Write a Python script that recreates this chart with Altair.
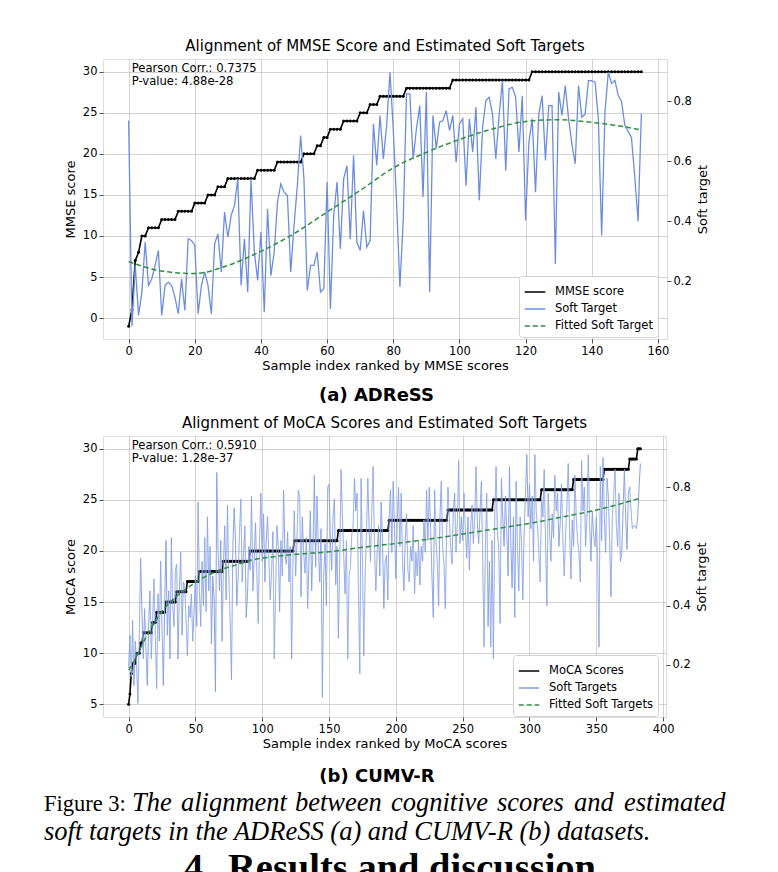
import altair as alt
import pandas as pd

# ---------------- Panel (a) ADReSS ----------------
mmse_score = [
    -1, 1, 7, 8, 10, 10, 11, 11, 11, 11,
    12, 12, 12, 12, 12, 13, 13, 13, 13, 13,
    14, 14, 14, 14, 15, 15, 15, 16, 16, 16,
    17, 17, 17, 17, 17, 17, 17, 17, 17, 18,
    18, 18, 18, 18, 18, 19, 19, 19, 19, 19,
    19, 19, 19, 20, 20, 20, 20, 21, 21, 22,
    22, 23, 23, 23, 23, 24, 24, 24, 24, 24,
    25, 25, 25, 26, 26, 26, 27, 27, 27, 27,
    27, 27, 27, 27, 28, 28, 28, 28, 28, 28,
    28, 28, 28, 28, 28, 28, 28, 28, 29, 29,
    29, 29, 29, 29, 29, 29, 29, 29, 29, 29,
    29, 29, 29, 29, 29, 29, 29, 29, 29, 29,
    29, 29, 30, 30, 30, 30, 30, 30, 30, 30,
    30, 30, 30, 30, 30, 30, 30, 30, 30, 30,
    30, 30, 30, 30, 30, 30, 30, 30, 30, 30,
    30, 30, 30, 30, 30, 30,
]
soft_a = [
    0.736, 0.050, 0.253, 0.086, 0.164, 0.331, 0.186, 0.208, 0.253, 0.303,
    0.086, 0.186, 0.197, 0.186, 0.147, 0.092, 0.208, 0.103, 0.342, 0.336,
    0.320, 0.092, 0.186, 0.231, 0.186, 0.092, 0.325, 0.358, 0.231, 0.431,
    0.347, 0.420, 0.453, 0.542, 0.186, 0.342, 0.164, 0.542, 0.297, 0.203,
    0.364, 0.097, 0.442, 0.219, 0.297, 0.464, 0.525, 0.497, 0.486, 0.231,
    0.386, 0.519, 0.686, 0.542, 0.169, 0.253, 0.253, 0.297, 0.164, 0.175,
    0.531, 0.108, 0.420, 0.531, 0.308, 0.542, 0.586, 0.340, 0.620, 0.330,
    0.303, 0.436, 0.314, 0.336, 0.725, 0.586, 0.753, 0.608, 0.720, 0.897,
    0.708, 0.464, 0.181, 0.400, 0.825, 0.825, 0.608, 0.708, 0.786, 0.481,
    0.831, 0.164, 0.753, 0.642, 0.731, 0.736, 0.769, 0.703, 0.753, 0.597,
    0.725, 0.742, 0.519, 0.742, 0.631, 0.781, 0.470, 0.714, 0.803, 0.814,
    0.758, 0.608, 0.753, 0.869, 0.569, 0.842, 0.847, 0.814, 0.631, 0.819,
    0.403, 0.664, 0.742, 0.497, 0.758, 0.819, 0.603, 0.786, 0.786, 0.258,
    0.831, 0.753, 0.853, 0.742, 0.658, 0.592, 0.853, 0.747, 0.758, 0.869,
    0.869, 0.864, 0.742, 0.353, 0.764, 0.897, 0.860, 0.870, 0.820, 0.800,
    0.720, 0.700, 0.680, 0.550, 0.400, 0.760,
]
fit_a_idx = [0, 10, 20, 30, 40, 50, 60, 70, 80, 90, 100, 110, 120, 130, 140, 150, 155]
fit_a_val = [0.266, 0.234, 0.226, 0.253, 0.300, 0.359, 0.431, 0.503, 0.578, 0.630,
             0.673, 0.708, 0.733, 0.739, 0.730, 0.715, 0.705]

# ---------------- Panel (b) CUMV-R ----------------
moca_score = [
    5, 6, 8, 9, 9, 9, 10, 10, 10, 11, 11,
    12, 12, 12, 12, 12, 12, 12,
    13, 13, 13,
    14, 14, 14, 14, 14, 14, 14,
    15, 15, 15, 15, 15, 15, 15, 15,
    16, 16, 16, 16, 16, 16, 16, 16,
    17, 17, 17, 17, 17, 17, 17, 17, 17,
    18, 18, 18, 18, 18, 18, 18, 18, 18, 18, 18, 18, 18, 18, 18, 18, 18, 18,
    19, 19, 19, 19, 19, 19, 19, 19, 19, 19, 19, 19, 19, 19, 19, 19, 19, 19, 19, 19,
    20, 20, 20, 20, 20, 20, 20, 20, 20, 20, 20, 20, 20, 20, 20, 20, 20, 20, 20, 20,
    20, 20, 20, 20, 20, 20, 20, 20, 20, 20, 20, 20, 20,
    21, 21, 21, 21, 21, 21, 21, 21, 21, 21, 21, 21, 21, 21, 21, 21, 21, 21, 21, 21,
    21, 21, 21, 21, 21, 21, 21, 21, 21, 21, 21, 21, 21,
    22, 22, 22, 22, 22, 22, 22, 22, 22, 22, 22, 22, 22, 22, 22, 22, 22, 22, 22, 22,
    22, 22, 22, 22, 22, 22, 22, 22, 22, 22, 22, 22, 22, 22, 22, 22, 22, 22,
    23, 23, 23, 23, 23, 23, 23, 23, 23, 23, 23, 23, 23, 23, 23, 23, 23, 23, 23, 23,
    23, 23, 23, 23, 23, 23, 23, 23, 23, 23, 23, 23, 23, 23, 23, 23, 23, 23, 23, 23,
    23, 23, 23, 23,
    24, 24, 24, 24, 24, 24, 24, 24, 24, 24, 24, 24, 24, 24, 24, 24, 24, 24, 24, 24,
    24, 24, 24, 24, 24, 24, 24, 24, 24, 24, 24, 24, 24, 24,
    25, 25, 25, 25, 25, 25, 25, 25, 25, 25, 25, 25, 25, 25, 25, 25, 25, 25, 25, 25,
    25, 25, 25, 25, 25, 25, 25, 25, 25, 25, 25, 25, 25, 25, 25, 25,
    26, 26, 26, 26, 26, 26, 26, 26, 26, 26, 26, 26, 26, 26, 26, 26, 26, 26, 26, 26,
    26, 26, 26, 26,
    27, 27, 27, 27, 27, 27, 27, 27, 27, 27, 27, 27, 27, 27, 27, 27, 27, 27, 27, 27,
    27, 27, 27,
    28, 28, 28, 28, 28, 28, 28, 28, 28, 28, 28, 28, 28, 28, 28, 28, 28, 28, 28,
    29, 29, 29, 29, 29, 29,
    30, 30, 30,
]
soft_b = [
    0.19, 0.30, 0.16, 0.35, 0.13, 0.28, 0.20, 0.07, 0.30, 0.56,
    0.38, 0.22, 0.39, 0.25, 0.13, 0.33, 0.45, 0.22, 0.35, 0.49,
    0.30, 0.12, 0.44, 0.28, 0.55, 0.32, 0.13, 0.40, 0.62, 0.30,
    0.45, 0.22, 0.63, 0.40, 0.33, 0.52, 0.54, 0.22, 0.45, 0.58,
    0.30, 0.48, 0.47, 0.35, 0.23, 0.40, 0.36, 0.44, 0.28, 0.38,
    0.50, 0.33, 0.75, 0.45, 0.33, 0.55, 0.40, 0.63, 0.38, 0.70,
    0.45, 0.60, 0.27, 0.50, 0.42, 0.11, 0.85, 0.58, 0.45, 0.62,
    0.28, 0.55, 0.67, 0.42, 0.74, 0.50, 0.35, 0.15, 0.60, 0.73,
    0.62, 0.40, 0.50, 0.65, 0.76, 0.48, 0.58, 0.67, 0.36, 0.44,
    0.60, 0.52, 0.77, 0.45, 0.56, 0.68, 0.50, 0.34, 0.62, 0.78,
    0.55, 0.71, 0.48, 0.62, 0.70, 0.55, 0.42, 0.52, 0.65, 0.22,
    0.45, 0.67, 0.60, 0.38, 0.62, 0.50, 0.79, 0.58, 0.54, 0.65,
    0.48, 0.60, 0.22, 0.55, 0.72, 0.50, 0.62, 0.79, 0.77, 0.43,
    0.70, 0.58, 0.51, 0.63, 0.39, 0.55, 0.72, 0.45, 0.60, 0.84,
    0.53, 0.77, 0.60, 0.48, 0.66, 0.09, 0.50, 0.61, 0.40, 0.80,
    0.81, 0.62, 0.52, 0.70, 0.76, 0.47, 0.60, 0.29, 0.55, 0.86,
    0.70, 0.57, 0.44, 0.62, 0.22, 0.50, 0.53, 0.64, 0.67, 0.83,
    0.72, 0.78, 0.45, 0.17, 0.83, 0.55, 0.23, 0.50, 0.64, 0.83,
    0.66, 0.55, 0.72, 0.87, 0.60, 0.45, 0.58, 0.67, 0.50, 0.75,
    0.62, 0.39, 0.55, 0.57, 0.42, 0.70, 0.79, 0.58, 0.82, 0.66,
    0.49, 0.68, 0.80, 0.60, 0.78, 0.55, 0.45, 0.62, 0.71, 0.52,
    0.48, 0.60, 0.55, 0.67, 0.44, 0.58, 0.50, 0.62, 0.47, 0.60,
    0.55, 0.69, 0.58, 0.79, 0.62, 0.80, 0.66, 0.50, 0.36, 0.79,
    0.62, 0.55, 0.40, 0.70, 0.82, 0.60, 0.54, 0.39, 0.65, 0.80,
    0.70, 0.60, 0.54, 0.72, 0.78, 0.58, 0.68, 0.89, 0.61, 0.70,
    0.62, 0.78, 0.66, 0.56, 0.70, 0.52, 0.67, 0.74, 0.61, 0.70,
    0.87, 0.68, 0.61, 0.72, 0.82, 0.55, 0.26, 0.60, 0.78, 0.33,
    0.55, 0.26, 0.62, 0.22, 0.70, 0.87, 0.65, 0.59, 0.34, 0.83,
    0.70, 0.60, 0.77, 0.65, 0.50, 0.87, 0.62, 0.46, 0.70, 0.36,
    0.82, 0.60, 0.45, 0.70, 0.62, 0.42, 0.65, 0.78, 0.91, 0.70,
    0.81, 0.66, 0.77, 0.55, 0.91, 0.72, 0.67, 0.58, 0.48, 0.77,
    0.70, 0.86, 0.62, 0.40, 0.78, 0.66, 0.55, 0.71, 0.63, 0.84,
    0.72, 0.78, 0.60, 0.68, 0.81, 0.62, 0.50, 0.64, 0.74, 0.88,
    0.66, 0.49, 0.69, 0.60, 0.84, 0.70, 0.62, 0.58, 0.48, 0.89,
    0.72, 0.80, 0.60, 0.70, 0.91, 0.67, 0.55, 0.72, 0.64, 0.60,
    0.70, 0.55, 0.26, 0.87, 0.62, 0.90, 0.70, 0.58, 0.83, 0.77,
    0.62, 0.43, 0.70, 0.77, 0.86, 0.67, 0.60, 0.78, 0.55, 0.57,
    0.72, 0.86, 0.70, 0.59, 0.78, 0.80, 0.72, 0.66, 0.67, 0.67,
    0.66, 0.70, 0.80, 0.88,
]
fit_b_idx = [0, 4, 8, 12, 17, 23, 30, 42, 55, 67, 80, 92, 105, 117, 130,
             150, 175, 200, 225, 250, 275, 300, 325, 350, 383]
fit_b_val = [0.182, 0.212, 0.248, 0.285, 0.325, 0.368, 0.407, 0.453, 0.492, 0.518,
             0.537, 0.554, 0.563, 0.570, 0.575, 0.582, 0.597, 0.610, 0.625, 0.642,
             0.660, 0.678, 0.700, 0.723, 0.763]

# caption text (line 1 is justified in the reference, so its words are spread)
caption_words_1 = ["The", "alignment", "between", "cognitive", "scores", "and", "estimated"]
caption_line_2 = "soft targets in the ADReSS (a) and CUMV-R (b) datasets."

FONT = "DejaVu Sans"
SERIF = "Liberation Serif"
GREEN = "#2f8f3a"
GRID = dict(grid=True, gridColor="#b0b0b0", gridWidth=0.8, gridOpacity=0.7)
AX = dict(labelFont=FONT, labelFontSize=11.5, labelColor="black", titleFont=FONT,
          titleFontSize=13, titleFontWeight="normal", titleColor="black",
          tickColor="#222222", tickSize=4, tickWidth=0.8, domain=False, labelPadding=2)


def note(text, x, y, **kw):
    return alt.Chart(pd.DataFrame({"t": [text]})).mark_text(**kw).encode(
        x=alt.value(x), y=alt.value(y), text="t:N")


def panel(score, soft, fidx, fval, names, blue, soft_w, xdom, xvals, xlab,
          ydomL, yvalsL, ylab, ydomR, title, pear, w, h, lx, ly, extras):
    df_s = pd.DataFrame({"i": list(range(len(score))), "v": score, "s": names[0]})
    df_t = pd.DataFrame({"i": list(range(len(soft))), "v": soft, "s": names[1]})
    df_f = pd.DataFrame({"i": fidx, "v": fval, "s": names[2]})
    xenc = alt.X("i:Q", scale=alt.Scale(domain=xdom, nice=False, zero=False),
                 axis=alt.Axis(values=xvals, title=xlab, titlePadding=3, **GRID, **AX))
    leg = alt.Legend(orient="none", legendX=lx, legendY=ly, title=None,
                     symbolType="stroke", symbolSize=420, symbolStrokeWidth=1.5,
                     labelFont=FONT, labelFontSize=11.5, labelColor="black",
                     labelOffset=9, fillColor="white", strokeColor="#d0d0d0",
                     cornerRadius=3, padding=5, rowPadding=0, labelLimit=300)
    color = alt.Color("s:N", scale=alt.Scale(domain=names, range=["black", blue, GREEN]),
                      legend=leg)
    dash = alt.StrokeDash("s:N", scale=alt.Scale(domain=names, range=[[1, 0], [1, 0], [5, 3]]),
                          legend=leg)
    right_axis = alt.Axis(orient="right", values=[0.2, 0.4, 0.6, 0.8], format=".1f",
                          title="Soft target", grid=False, titlePadding=5, titleAngle=270,
                          titleBaseline="top", **AX)
    rscale = alt.Scale(domain=ydomR, nice=False, zero=False)
    score_ch = alt.Chart(df_s).mark_line(
        strokeWidth=1.6,
        point=alt.OverlayMarkDef(filled=True, size=9, color="black", opacity=1),
    ).encode(
        x=xenc,
        y=alt.Y("v:Q", scale=alt.Scale(domain=ydomL, nice=False, zero=False),
                axis=alt.Axis(orient="left", values=yvalsL, title=ylab, titlePadding=5,
                              **GRID, **AX)),
        color=color, strokeDash=dash,
    )
    soft_ch = alt.Chart(df_t).mark_line(strokeWidth=soft_w).encode(
        x=xenc, y=alt.Y("v:Q", scale=rscale, axis=right_axis), color=color, strokeDash=dash)
    fit_ch = alt.Chart(df_f).mark_line(strokeWidth=1.5, interpolate="monotone").encode(
        x=xenc, y=alt.Y("v:Q", scale=rscale, axis=right_axis), color=color, strokeDash=dash)
    pear_ch = note(pear, 28.7, 3.5, align="left", baseline="top", font=FONT, fontSize=11.6,
                   lineBreak="\n", lineHeight=13.8, color="black")
    return alt.layer(score_ch, alt.layer(soft_ch, fit_ch), pear_ch, *extras).resolve_scale(
        y="independent").properties(
        width=w, height=h,
        title=alt.TitleParams(title, font=FONT, fontSize=15, fontWeight="normal",
                              color="black", offset=5, anchor="middle"))


CAP_IT = dict(align="left", baseline="alphabetic", font=SERIF, fontSize=26.5,
              fontStyle="italic", color="black")
# word left edges for the justified first caption line (relative to plot left)
word_x = [29, 78, 192, 288, 394, 471, 521]

extras_a = [
    note("(a) ADReSS", 273.5, 342, align="center", baseline="alphabetic", font=FONT,
         fontSize=18, fontWeight="bold", color="black"),
]
extras_b = [
    note("(b) CUMV-R", 274, 346, align="center", baseline="alphabetic", font=FONT,
         fontSize=18, fontWeight="bold", color="black"),
    note("Figure 3:", -59, 375, align="left", baseline="alphabetic", font=SERIF,
         fontSize=22.5, color="black"),
]
extras_b += [note(wd, wx, 375, **CAP_IT) for wd, wx in zip(caption_words_1, word_x)]
extras_b += [
    note(caption_line_2, -59, 404, **CAP_IT),
    note("4.", 81, 444, align="left", baseline="alphabetic", font=SERIF, fontSize=38.5,
         fontWeight="bold", color="black"),
    note("Results and discussion", 125, 444, align="left", baseline="alphabetic", font=SERIF,
         fontSize=38.5, fontWeight="bold", color="black"),
]

pa = panel(mmse_score, soft_a, fit_a_idx, fit_a_val,
           ["MMSE score", "Soft Target", "Fitted Soft Target"], "#6c8ddf", 1.3,
           [-7.75, 162.75], [0, 20, 40, 60, 80, 100, 120, 140, 160],
           "Sample index ranked by MMSE scores",
           [-2.55, 31.55], [0, 5, 10, 15, 20, 25, 30], "MMSE score",
           [0.0076, 0.9414], "Alignment of MMSE Score and Estimated Soft Targets",
           "Pearson Corr.: 0.7375\nP-value: 4.88e-28", 564, 280, 416, 217, extras_a)

pb = panel(moca_score, soft_b, fit_b_idx, fit_b_val,
           ["MoCA Scores", "Soft Targets", "Fitted Soft Targets"], "#86a0e8", 1.0,
           [-19.15, 402.15], [0, 50, 100, 150, 200, 250, 300, 350, 400],
           "Sample index ranked by MoCA scores",
           [3.75, 31.25], [5, 10, 15, 20, 25, 30], "MoCA score",
           [0.024, 0.973], "Alignment of MoCA Scores and Estimated Soft Targets",
           "Pearson Corr.: 0.5910\nP-value: 1.28e-37", 563, 281, 410, 219, extras_b)

chart = alt.vconcat(pa, pb, spacing=97, bounds="flush").resolve_scale(
    x="independent", y="independent", color="independent", strokeDash="independent"
).properties(
    padding={"left": 35, "top": 30, "right": 5, "bottom": 0}
).configure_view(stroke="#333333", strokeWidth=1).configure(background="white")

chart.save("out.html", embed_options={"renderer": "svg", "actions": False})
